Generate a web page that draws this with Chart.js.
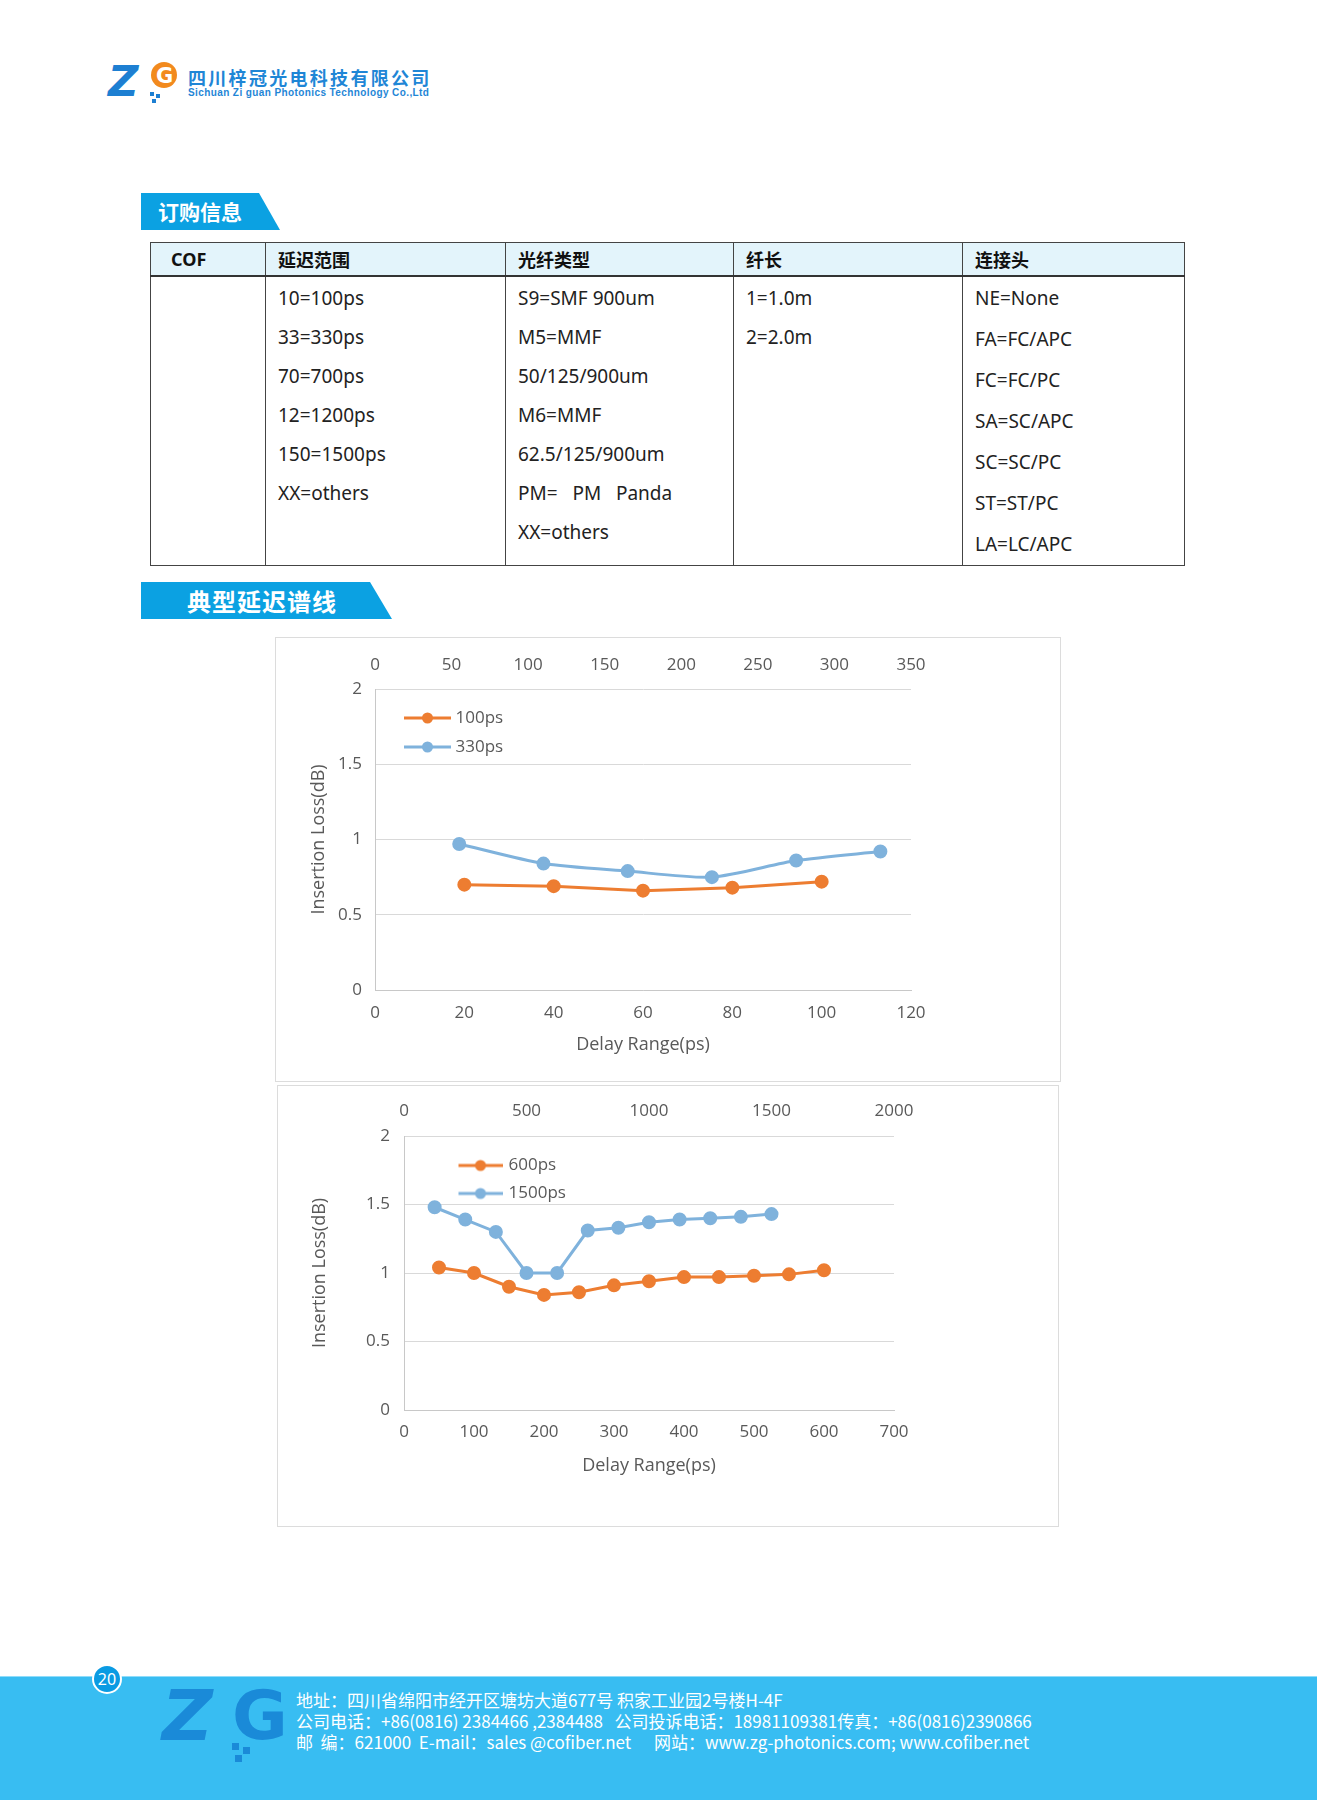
<!DOCTYPE html>
<html lang="zh">
<head>
<meta charset="utf-8">
<title>COF 典型延迟谱线</title>
<script src="https://cdn.jsdelivr.net/npm/chart.js@4.4.0/dist/chart.umd.min.js"></script>
<style>
html, body { margin: 0; padding: 0; background: #fff; }
#page { position: relative; width: 1317px; height: 1800px; overflow: hidden;
  font-family: "Noto Sans", "Noto Sans CJK SC", sans-serif; color: #222; }
.abs { position: absolute; }
.cn { font-family: "Noto Sans CJK SC", sans-serif; }
.tag { position: absolute; background: #0ba1e2; color: #fff; font-family: "Noto Sans CJK SC", sans-serif;
  font-weight: bold; box-sizing: border-box; }
#spec { position: absolute; left: 150px; top: 242px; border-collapse: collapse; table-layout: fixed; }
#spec td { border: 1px solid #444; vertical-align: top; padding: 0 0 0 12px; font-size: 19px; color: #222; }
#spec tr.head td { background: #e3f4fb; height: 32px; vertical-align: middle; font-family: "Noto Sans CJK SC", sans-serif;
  font-weight: bold; font-size: 18px; color: #111; border-bottom: 2px solid #333; }
#spec .lst { line-height: 39px; padding-top: 2px; white-space: pre; }
#spec .lst5 { line-height: 41px; padding-top: 1px; white-space: pre; }
.box { position: absolute; border: 1px solid #dcdcdc; box-sizing: border-box; }
.box canvas { position: absolute; left: 0; top: 0; }
#foot { position: absolute; left: 0; top: 1676px; width: 1317px; height: 124px; background: #38bdf2; border-top: 1px solid #8fdcfa; }
.ft { position: absolute; left: 296px; color: #fff; font-size: 17px; line-height: 21px; font-family: "Noto Sans CJK SC", sans-serif; white-space: pre; }
</style>
</head>
<body>
<div id="page">

  <!-- header logo -->
  <svg class="abs" style="left:106px;top:56px" width="84" height="50">
    <text x="2" y="40" font-family="DejaVu Sans" font-weight="bold" font-style="italic" font-size="42" fill="#1d7fd2">Z</text>
    <circle cx="58" cy="19" r="13" fill="#f28a1e"/>
    <text x="50" y="27" font-family="DejaVu Sans" font-weight="bold" font-size="21" fill="#fff">G</text>
    <rect x="44" y="36" width="4" height="4" fill="#1d7fd2"/>
    <rect x="50" y="38" width="4" height="4" fill="#1d7fd2"/>
    <rect x="46" y="43" width="4" height="4" fill="#1d7fd2"/>
  </svg>
  <div class="abs cn" style="left:188px;top:66px;font-size:18px;font-weight:bold;color:#1f86d6;letter-spacing:2.3px;line-height:22px">四川梓冠光电科技有限公司</div>
  <div class="abs" style="left:188px;top:87px;font-size:10px;font-weight:bold;color:#1f86d6;line-height:12px;font-family:'Liberation Sans',sans-serif;letter-spacing:0.4px">Sichuan Zi guan Photonics Technology Co.,Ltd</div>

  <!-- ordering info -->
  <div class="tag" style="left:141px;top:193px;width:139px;height:37px;clip-path:polygon(0 0,118px 0,100% 100%,0 100%);font-size:21px;line-height:37px;padding-left:17px">订购信息</div>

  <table id="spec">
    <colgroup><col style="width:115px"><col style="width:240px"><col style="width:228px"><col style="width:229px"><col style="width:222px"></colgroup>
    <tr class="head"><td style="font-family:'Noto Sans',sans-serif;padding-left:20px">COF</td><td>延迟范围</td><td>光纤类型</td><td>纤长</td><td>连接头</td></tr>
    <tr style="height:289px">
      <td></td>
      <td class="lst">10=100ps
33=330ps
70=700ps
12=1200ps
150=1500ps
XX=others</td>
      <td class="lst">S9=SMF 900um
M5=MMF
50/125/900um
M6=MMF
62.5/125/900um
PM=   PM   Panda
XX=others</td>
      <td class="lst">1=1.0m
2=2.0m</td>
      <td class="lst5">NE=None
FA=FC/APC
FC=FC/PC
SA=SC/APC
SC=SC/PC
ST=ST/PC
LA=LC/APC</td>
    </tr>
  </table>

  <!-- typical curves -->
  <div class="tag" style="left:141px;top:582px;width:251px;height:37px;clip-path:polygon(0 0,229px 0,100% 100%,0 100%);font-size:24px;line-height:37px;padding-left:46px;letter-spacing:1px">典型延迟谱线</div>

  <div class="box" style="left:275px;top:637px;width:786px;height:445px">
    <canvas id="chart1" width="786" height="445"></canvas>
  </div>
  <div class="box" style="left:277px;top:1085px;width:782px;height:442px">
    <canvas id="chart2" width="782" height="442"></canvas>
  </div>

  <!-- footer -->
  <div id="foot">
    <svg class="abs" style="left:148px;top:8px" width="145" height="90">
      <text x="14" y="55" font-family="DejaVu Sans" font-weight="bold" font-style="italic" font-size="70" fill="#1a8ad8">Z</text>
      <text x="84" y="54" font-family="DejaVu Sans" font-weight="bold" font-size="68" fill="#1a8ad8">G</text>
      <rect x="84" y="58" width="7" height="7" fill="#1a8ad8"/>
      <rect x="95" y="62" width="7" height="7" fill="#1a8ad8"/>
      <rect x="87" y="70" width="7" height="7" fill="#1a8ad8"/>
    </svg>
    <div class="ft" style="top:12px">地址：四川省绵阳市经开区塘坊大道677号 积家工业园2号楼H-4F</div>
    <div class="ft" style="top:33px">公司电话：+86(0816) 2384466 ,2384488   公司投诉电话：18981109381传真：+86(0816)2390866</div>
    <div class="ft" style="top:54px">邮  编：621000  E-mail：sales @cofiber.net      网站：www.zg-photonics.com; www.cofiber.net</div>
  </div>
  <div class="abs" style="left:92px;top:1664px;width:30px;height:30px;border-radius:50%;background:#0a9be3;border:2px solid #fff;box-sizing:border-box;color:#fff;font-size:16px;line-height:26px;text-align:center">20</div>
</div>

<script>
// chart 1: 100ps (bottom axis) and 330ps (top axis)
const delay100 = [20, 40, 60, 80, 100];
const loss100 = [0.70, 0.69, 0.66, 0.68, 0.72];
const delay330 = [55, 110, 165, 220, 275, 330];
const loss330 = [0.97, 0.84, 0.79, 0.75, 0.86, 0.92];

// chart 2: 600ps (bottom axis) and 1500ps (top axis)
const delay600 = [50, 100, 150, 200, 250, 300, 350, 400, 450, 500, 550, 600];
const loss600 = [1.04, 1.00, 0.90, 0.84, 0.86, 0.91, 0.94, 0.97, 0.97, 0.98, 0.99, 1.02];
const delay1500 = [125, 250, 375, 500, 625, 750, 875, 1000, 1125, 1250, 1375, 1500];
const loss1500 = [1.48, 1.39, 1.30, 1.00, 1.00, 1.31, 1.33, 1.37, 1.39, 1.40, 1.41, 1.43];

// axis ranges [min, max, step]
const yRange = [0, 2, 0.5];
const xRange1 = [0, 120, 20];
const x2Range1 = [0, 350, 50];
const xRange2 = [0, 700, 100];
const x2Range2 = [0, 2000, 500];

const ORANGE = '#ed7d31';
const BLUE = '#7fb2dc';
const TEXT = '#595959';

function toPoints(xs, ys) {
    return xs.map(function (x, i) { return { x: x, y: ys[i] }; });
}

// plain number labels: 2, 1.5, 1000 (no "2.0" or "1,000")
function plain(v) { return String(v); }

// little line-with-dot picture for the legend
function legendIcon(color, w, from, to) {
    const c = document.createElement('canvas');
    c.width = w; c.height = 14;
    const g = c.getContext('2d');
    g.strokeStyle = color; g.lineWidth = 3;
    g.beginPath(); g.moveTo(from, 7); g.lineTo(to, 7); g.stroke();
    g.fillStyle = color;
    g.beginPath(); g.arc((from + to) / 2, 7, 5.5, 0, Math.PI * 2); g.fill();
    return c;
}

function series(label, xs, ys, color, axis, tension) {
    return {
        label: label,
        data: toPoints(xs, ys),
        xAxisID: axis,
        borderColor: color,
        backgroundColor: color,
        borderWidth: 3,
        pointRadius: 5.5,
        pointHoverRadius: 5.5,
        tension: tension
    };
}

function makeChart(id, datasets, xr, x2r, lay, icons) {
    const tickFont = { family: 'Open Sans', size: 17 };
    const titleFont = { family: 'Open Sans', size: 18 };
    return new Chart(document.getElementById(id), {
        type: 'line',
        data: { datasets: datasets },
        options: {
            responsive: false,
            animation: false,
            layout: { padding: { left: lay.left, right: lay.right, top: 0, bottom: lay.bottom } },
            plugins: {
                tooltip: { enabled: false },
                legend: {
                    position: 'chartArea',
                    align: 'start',
                    // the vertical chartArea legend starts at the canvas top, so an empty title pushes it down
                    title: { display: true, text: '', padding: 0, font: { size: 1, lineHeight: lay.legTop + 'px' } },
                    labels: {
                        usePointStyle: true,
                        pointStyleWidth: lay.boxW,
                        padding: lay.legPad,
                        color: TEXT,
                        font: { family: 'Open Sans', size: 17 },
                        generateLabels: function (chart) {
                            const items = Chart.defaults.plugins.legend.labels.generateLabels(chart);
                            items.forEach(function (it, i) { it.pointStyle = icons[i]; });
                            return items;
                        }
                    }
                }
            },
            scales: {
                x: {
                    type: 'linear', position: 'bottom',
                    min: xr[0], max: xr[1],
                    ticks: { stepSize: xr[2], color: TEXT, font: tickFont, padding: lay.xPad, callback: plain },
                    grid: { display: false, drawTicks: false },
                    border: { display: true, color: '#c8c8c8', width: 1 },
                    title: { display: true, text: 'Delay Range(ps)', color: TEXT, font: titleFont },
                    afterFit: function (s) { s.height = lay.xH; }
                },
                x2: {
                    type: 'linear', position: 'top',
                    min: x2r[0], max: x2r[1],
                    ticks: { stepSize: x2r[2], color: TEXT, font: tickFont, padding: lay.x2Pad, callback: plain },
                    grid: { display: false, drawTicks: false },
                    border: { display: false },
                    afterFit: function (s) { s.height = lay.x2H; }
                },
                y: {
                    min: yRange[0], max: yRange[1],
                    ticks: { stepSize: yRange[2], color: TEXT, font: tickFont, padding: lay.yPad, callback: plain },
                    grid: { color: '#d9d9d9', drawTicks: false },
                    border: { display: true, color: '#c8c8c8', width: 1 },
                    title: { display: true, text: 'Insertion Loss(dB)', color: TEXT, font: titleFont },
                    afterFit: function (s) { s.width = lay.yW; }
                }
            }
        }
    });
}

makeChart('chart1', [
    series('100ps', delay100, loss100, ORANGE, 'x', 0),
    series('330ps', delay330, loss330, BLUE, 'x2', 0.25)
], xRange1, x2Range1,
    { left: 28, right: 151, bottom: 23, xH: 70, x2H: 51, yW: 71, xPad: 13, x2Pad: 14, yPad: 13,
      legTop: 59.5, legPad: 12, boxW: 60 },
    [legendIcon(ORANGE, 68, 21, 68), legendIcon(BLUE, 68, 21, 68)]);

makeChart('chart2', [
    series('600ps', delay600, loss600, ORANGE, 'x', 0),
    series('1500ps', delay1500, loss1500, BLUE, 'x2', 0)
], xRange2, x2Range2,
    { left: 27, right: 166, bottom: 47, xH: 71, x2H: 50, yW: 99, xPad: 12, x2Pad: 15, yPad: 14,
      legTop: 60, legPad: 11, boxW: 85 },
    [legendIcon(ORANGE, 90, 46, 90), legendIcon(BLUE, 90, 46, 90)]);
</script>
</body>
</html>
